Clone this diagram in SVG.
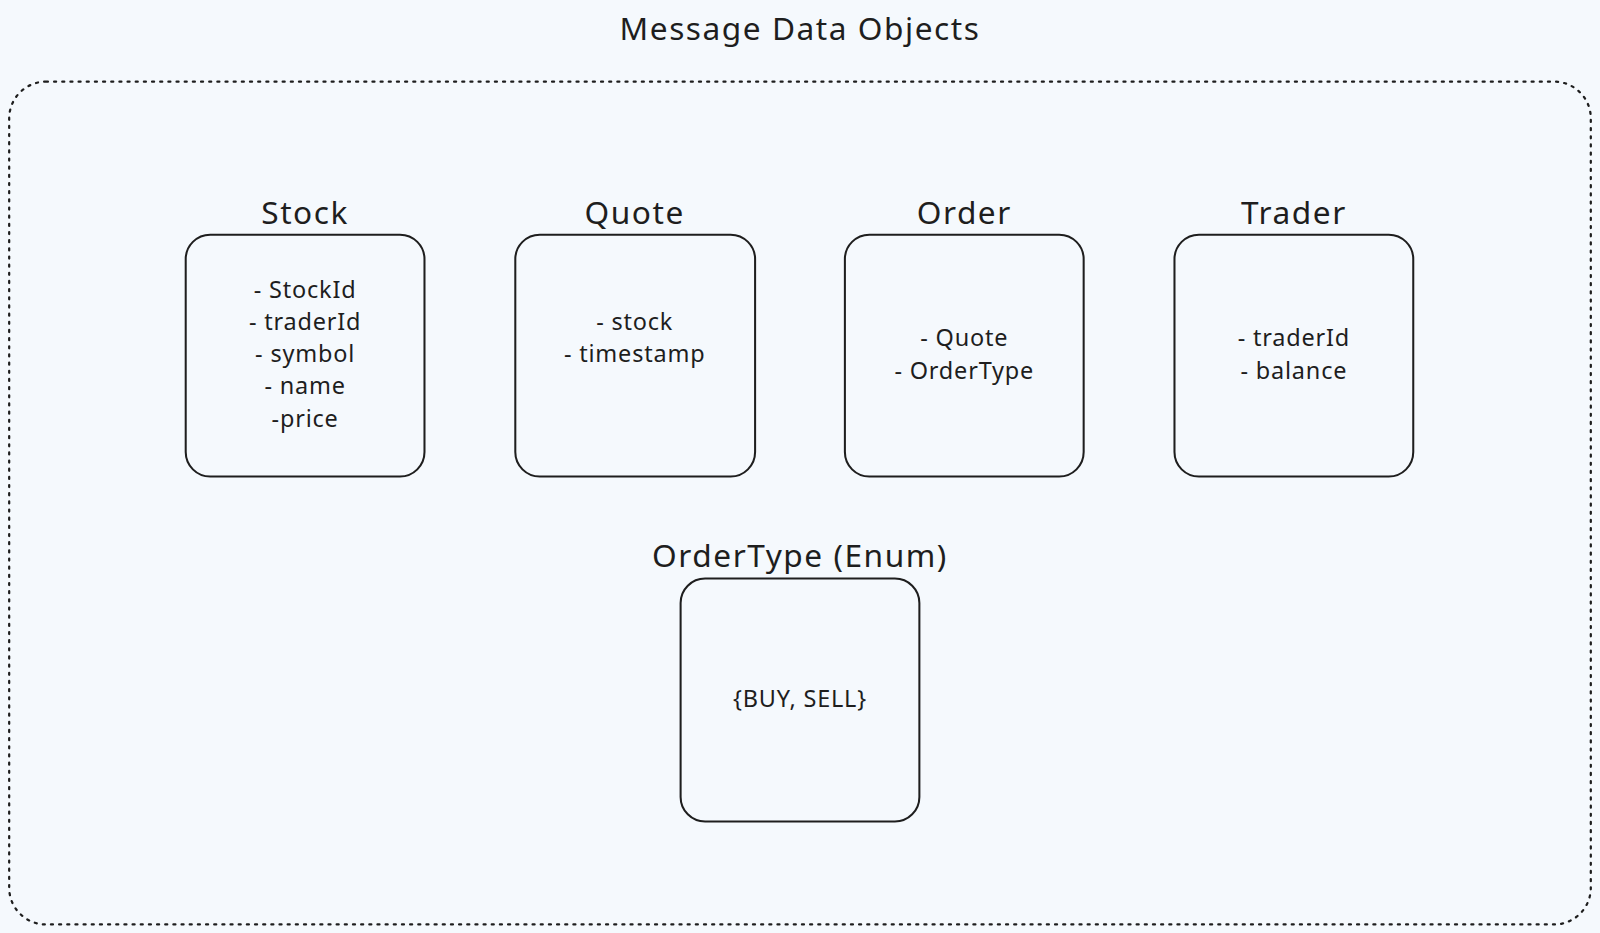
<svg xmlns="http://www.w3.org/2000/svg" width="1600" height="933" viewBox="0 0 1600 933">
<style>
.t{font-family:"Noto Sans","Liberation Sans",sans-serif;fill:#1e1e1e;text-anchor:middle}
.h{font-size:31px;letter-spacing:1.5px}
.b{font-size:23px;letter-spacing:0.8px}
.box{fill:none;stroke:#1e1e1e;stroke-width:2}
</style>
<rect width="1600" height="933" fill="#f5f9fd"/>
<g transform="scale(1.0204)">
<text class="t h" x="784" y="39">Message Data Objects</text>
<rect x="9" y="80" width="1550" height="826" rx="36" fill="none" stroke="#1e1e1e" stroke-width="2.2" stroke-dasharray="2 6" stroke-linecap="round"/>
<g id="stock">
<text class="t h" x="299" y="220">Stock</text>
<rect class="box" x="182" y="230" width="234" height="237" rx="24"/>
<text class="t b" x="299" y="292">- StockId</text>
<text class="t b" x="299" y="323">- traderId</text>
<text class="t b" x="299" y="355">- symbol</text>
<text class="t b" x="299" y="386">- name</text>
<text class="t b" x="299" y="418">-price</text>
</g>
<g id="quote">
<text class="t h" x="622" y="220">Quote</text>
<rect class="box" x="505" y="230" width="235" height="237" rx="24"/>
<text class="t b" x="622" y="323">- stock</text>
<text class="t b" x="622" y="355">- timestamp</text>
</g>
<g id="order">
<text class="t h" x="945" y="220">Order</text>
<rect class="box" x="828" y="230" width="234" height="237" rx="24"/>
<text class="t b" x="945" y="339">- Quote</text>
<text class="t b" x="945" y="371">- OrderType</text>
</g>
<g id="trader">
<text class="t h" x="1268" y="220">Trader</text>
<rect class="box" x="1151" y="230" width="234" height="237" rx="24"/>
<text class="t b" x="1268" y="339">- traderId</text>
<text class="t b" x="1268" y="371">- balance</text>
</g>
<g id="ordertype">
<text class="t h" x="784" y="556">OrderType (Enum)</text>
<rect class="box" x="667" y="567" width="234" height="238" rx="24"/>
<text class="t b" x="784" y="693">{BUY, SELL}</text>
</g>
<g id="connectors"/>
</g>
</svg>
